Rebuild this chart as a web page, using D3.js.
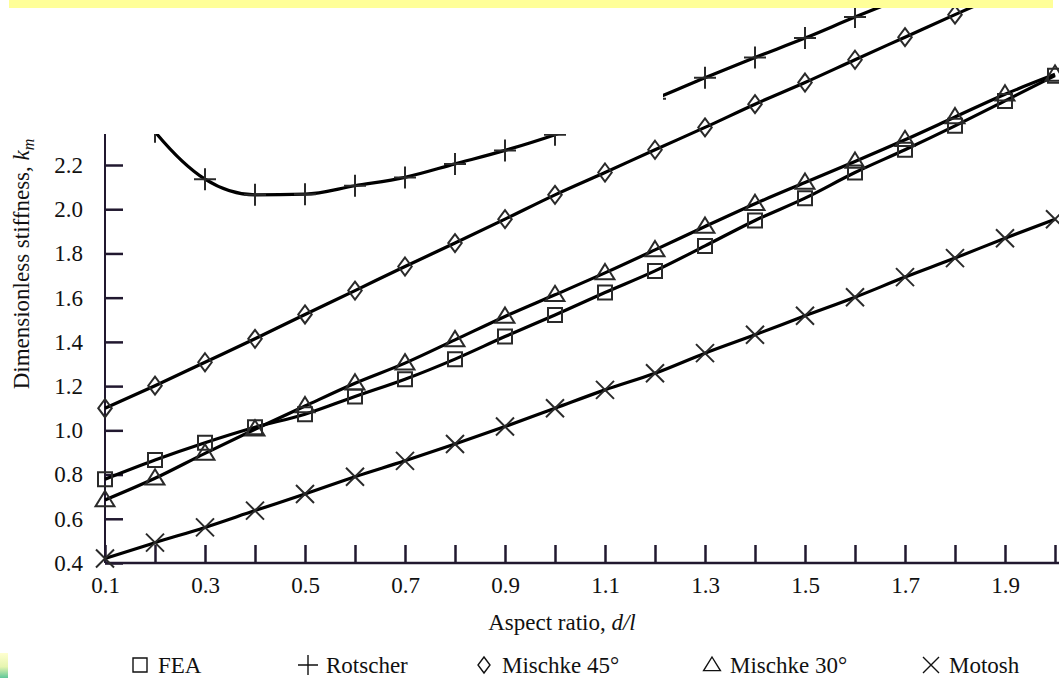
<!DOCTYPE html>
<html><head><meta charset="utf-8">
<script src="https://cdn.jsdelivr.net/npm/d3@7"></script>
<style>
html,body{margin:0;padding:0;background:#fff;}
svg{display:block;}
text{font-family:"Liberation Serif","Times New Roman",serif;fill:#111;}
</style></head>
<body>
<svg id="chart" width="1059" height="678"></svg>
<script>
// ---- data ----
const aspect = [0.1,0.2,0.3,0.4,0.5,0.6,0.7,0.8,0.9,1.0,1.1,1.2,1.3,1.4,1.5,1.6,1.7,1.8,1.9,2.0];
const fea       = [0.779,0.866,0.944,1.014,1.073,1.153,1.231,1.322,1.424,1.522,1.623,1.721,1.834,1.949,2.050,2.166,2.269,2.377,2.490,2.604];
const rotscher  = [2.68,2.35,2.136,2.065,2.068,2.106,2.144,2.205,2.266,2.337,2.42,2.50,2.595,2.686,2.774,2.869,2.96,3.05,3.14,3.23];
const mischke45 = [1.100,1.202,1.308,1.414,1.524,1.632,1.741,1.847,1.955,2.065,2.166,2.269,2.370,2.475,2.573,2.676,2.778,2.880,2.98,3.08];
const mischke30 = [0.685,0.783,0.896,1.005,1.110,1.213,1.304,1.409,1.515,1.613,1.712,1.816,1.922,2.025,2.121,2.216,2.314,2.417,2.520,2.610];
const motosh    = [0.420,0.492,0.561,0.637,0.712,0.790,0.862,0.938,1.017,1.100,1.183,1.258,1.349,1.432,1.518,1.602,1.693,1.779,1.869,1.955];
const yTicks = [0.4,0.6,0.8,1.0,1.2,1.4,1.6,1.8,2.0,2.2];
const xTickLabels = [0.1,0.3,0.5,0.7,0.9,1.1,1.3,1.5,1.7,1.9];
const seriesNames = ["FEA","Rotscher","Mischke 45°","Mischke 30°","Motosh"];
const seriesSymbols = ["square","plus","diamond","triangle","cross"];

const series = [
  {name:seriesNames[0], sym:seriesSymbols[0], vals:fea},
  {name:seriesNames[1], sym:seriesSymbols[1], vals:rotscher},
  {name:seriesNames[2], sym:seriesSymbols[2], vals:mischke45},
  {name:seriesNames[3], sym:seriesSymbols[3], vals:mischke30},
  {name:seriesNames[4], sym:seriesSymbols[4], vals:motosh}
];

const svg = d3.select("#chart");
const axisColor = "#21182f";

const x = d3.scaleLinear().domain([0.1,2.0]).range([105,1055]);
const y = d3.scaleLinear().domain([0.4,2.2]).range([563,165]);

// clip: left part cut at top of the y axis, right part reaches page top
const defs = svg.append("defs");
const cp = defs.append("clipPath").attr("id","plotclip");
cp.append("rect").attr("x",0).attr("y",134).attr("width",663).attr("height",544);
cp.append("rect").attr("x",663).attr("y",0).attr("width",396).attr("height",678);

const grad = defs.append("linearGradient").attr("id","corner").attr("x1",0).attr("y1",0).attr("x2",0).attr("y2",1);
grad.append("stop").attr("offset","0%").attr("stop-color","#ffffd0");
grad.append("stop").attr("offset","55%").attr("stop-color","#e6f5b0");
grad.append("stop").attr("offset","100%").attr("stop-color","#5fc79a");

// symbol paths
function symPath(type, s){
  switch(type){
    case "square": return `M${-s},${-s}H${s}V${s}H${-s}Z`;
    case "plus": return `M${-s},0H${s}M0,${-s}V${s}`;
    case "diamond": return `M0,${-s}L${s*0.75},0L0,${s}L${-s*0.75},0Z`;
    case "triangle": return `M0,${-s}L${s*1.05},${s*0.7}L${-s*1.05},${s*0.7}Z`;
    case "cross": return `M${-s},${-s}L${s},${s}M${s},${-s}L${-s},${s}`;
  }
}
const symSize = {square:7, plus:11, diamond:9, triangle:9, cross:9};

// axes
const yAxis = d3.axisLeft(y).tickValues(yTicks).tickSize(-18).tickPadding(22).tickFormat(d3.format(".1f"));
const gy = svg.append("g").attr("transform","translate(105,0)").call(yAxis);
gy.select(".domain").attr("d","M0,134V563").attr("stroke",axisColor).attr("stroke-width",2);
gy.selectAll(".tick line").attr("stroke",axisColor).attr("stroke-width",2.5);
gy.selectAll(".tick text").attr("font-size",23).attr("fill","#111").attr("font-family","Liberation Serif");

const xAxis = d3.axisBottom(x).tickValues(aspect).tickSize(-18).tickPadding(14)
  .tickFormat(d => xTickLabels.some(v=>Math.abs(v-d)<1e-9) ? d3.format(".1f")(d) : "");
const gx = svg.append("g").attr("transform","translate(0,563)").call(xAxis);
gx.select(".domain").attr("d","M105,0H1059").attr("stroke",axisColor).attr("stroke-width",2.5);
gx.selectAll(".tick line").attr("stroke",axisColor).attr("stroke-width",2.5);
gx.selectAll(".tick text").attr("font-size",23).attr("fill","#111").attr("font-family","Liberation Serif");

// series
const plot = svg.append("g").attr("clip-path","url(#plotclip)");
const line = d3.line().x((d,i)=>x(aspect[i])).y(d=>y(d)).curve(d3.curveMonotoneX);
series.forEach(s=>{
  plot.append("path").attr("d",line(s.vals)).attr("fill","none")
    .attr("stroke","#000").attr("stroke-width",3.2);
});
series.forEach(s=>{
  plot.selectAll(null).data(s.vals).enter().append("path")
    .attr("transform",(d,i)=>`translate(${x(aspect[i])},${y(d)})`)
    .attr("d",symPath(s.sym,symSize[s.sym]))
    .attr("fill","none").attr("stroke","#2a2a2a").attr("stroke-width",2);
});

// yellow band at top and corner artifact
svg.append("rect").attr("x",9).attr("y",0).attr("width",1044).attr("height",8).attr("fill","#ffff99");
svg.append("rect").attr("x",0).attr("y",653).attr("width",8).attr("height",25).attr("fill","url(#corner)");

// axis titles
const xt = svg.append("text").attr("x",562).attr("y",630).attr("text-anchor","middle").attr("font-size",23);
xt.append("tspan").text("Aspect ratio, ");
xt.append("tspan").attr("font-style","italic").text("d/l");

const yt = svg.append("text").attr("transform","translate(29,264) rotate(-90)").attr("text-anchor","middle").attr("font-size",23);
yt.append("tspan").text("Dimensionless stiffness, ");
yt.append("tspan").attr("font-style","italic").text("k");
yt.append("tspan").attr("font-style","italic").attr("font-size",16).attr("dy",5).text("m");

// legend
const legendX = [140,308,484,712,931];
const lg = svg.append("g");
series.forEach((s,i)=>{
  const g = lg.append("g").attr("transform",`translate(${legendX[i]},665)`);
  const ls = {square:7, plus:10, diamond:8, triangle:8, cross:8}[s.sym];
  g.append("path").attr("d",symPath(s.sym,ls)).attr("fill","none").attr("stroke","#111").attr("stroke-width",1.4);
  g.append("text").attr("x",18).attr("y",8).attr("font-size",23).text(s.name);
});
</script>
</body></html>
